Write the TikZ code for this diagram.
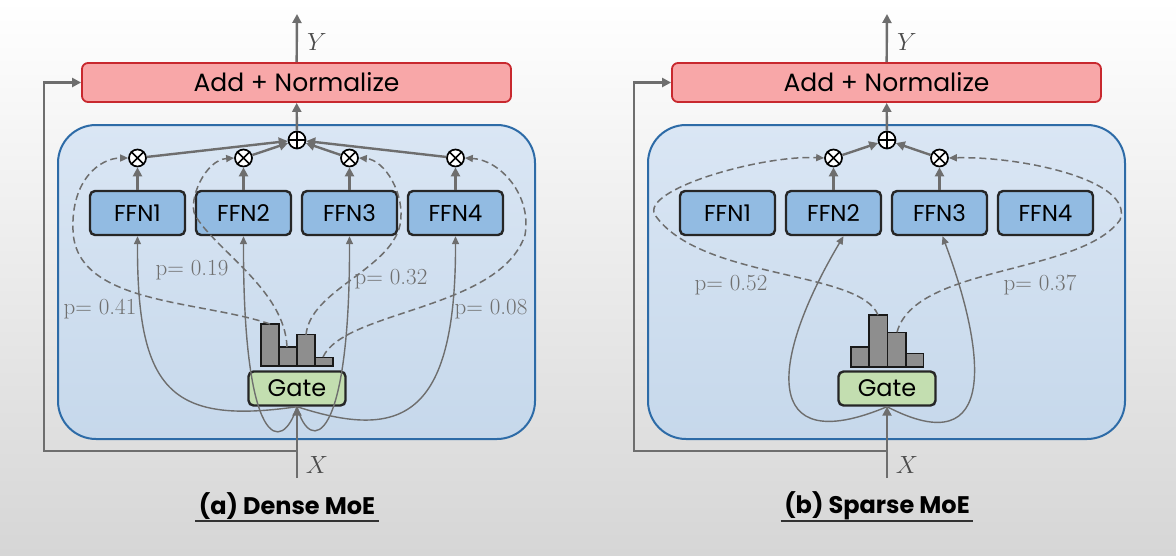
\documentclass[tikz,border=0pt]{standalone}
\usepackage{fontspec}
\newfontfamily\gothic{Poppins}
\usetikzlibrary{arrows.meta,calc}
\definecolor{arrgray}{HTML}{6E6E6E}
\definecolor{redfill}{HTML}{F8A7A8}
\definecolor{redline}{HTML}{C8282E}
\definecolor{bluetop}{HTML}{DAE6F4}
\definecolor{bluebot}{HTML}{C6D8EB}
\definecolor{blueline}{HTML}{2D6BA7}
\definecolor{ffnfill}{HTML}{92BBE2}
\definecolor{gatefill}{HTML}{C3DEB0}
\definecolor{barfill}{HTML}{8E8E8E}
\definecolor{plabel}{HTML}{707070}
\definecolor{bgbot}{HTML}{D6D6D6}
\begin{document}
\begin{tikzpicture}[x=1pt,y=-1pt,
 arr/.style={draw=arrgray,line width=2.4pt,-{Triangle[length=9pt,width=9pt]}},
 solidc/.style={draw=arrgray,line width=1.4pt,-{Triangle[length=8pt,width=7pt]}},
 dashc/.style={draw=arrgray,line width=1.5pt,dash pattern=on 7pt off 4pt,-{Triangle[length=8pt,width=7pt]}},
 addbox/.style={draw=redline,fill=redfill,line width=1.8pt,rounded corners=6pt,minimum width=429pt,minimum height=39pt,inner sep=0pt,font=\gothic\fontsize{25}{28}\selectfont},
 ffnbox/.style={draw=black!85,fill=ffnfill,line width=2.4pt,rounded corners=5pt,minimum width=95pt,minimum height=44pt,inner sep=0pt,font=\gothic\fontsize{23}{26}\selectfont},
 gatebox/.style={draw=black!85,fill=gatefill,line width=2.4pt,rounded corners=5pt,minimum width=97pt,minimum height=34pt,inner sep=0pt,font=\gothic\fontsize{24}{26}\selectfont},
 mulnode/.style={circle,draw=black,fill=white,line width=1.7pt,minimum size=17pt,inner sep=0pt},
 crossline/.style={draw=black,line width=1.7pt},
 barbox/.style={draw=black!90,fill=barfill,line width=1.6pt},
 moebox/.style={draw=blueline,line width=2pt,rounded corners=38pt,top color=bluetop,bottom color=bluebot},
 plab/.style={text=plabel,font=\fontsize{23}{26}\selectfont},
 caption/.style={font=\gothic\bfseries\fontsize{24}{28}\selectfont},
 varlab/.style={text=black!70,font=\fontsize{25}{28}\selectfont}]
\useasboundingbox (0,0) rectangle (1176,555);
\shade[top color=white,middle color=white,bottom color=bgbot] (0,0) rectangle (1176,555);

% ================= Panel A: Dense MoE =================
\path[moebox] (58,125) rectangle (535,439);
\node[addbox] (addA) at (296.5,82.5) {Add + Normalize};
\node[ffnbox] (fA1) at (137.5,213) {FFN1};
\node[ffnbox] (fA2) at (243.5,213) {FFN2};
\node[ffnbox] (fA3) at (349.5,213) {FFN3};
\node[ffnbox] (fA4) at (455.5,213) {FFN4};
\node[mulnode] (pA) at (297,140) {};
\draw[crossline] (pA.north) -- (pA.south) (pA.west) -- (pA.east);
\foreach \i/\xx in {1/137.5,2/243.5,3/349.5,4/455.5}{
  \node[mulnode] (oA\i) at (\xx,158) {};
  \draw[crossline] (oA\i.north west) -- (oA\i.south east) (oA\i.north east) -- (oA\i.south west);
  \draw[arr] (fA\i) -- (oA\i);
  \draw[arr] (oA\i) -- (pA);
}
\draw[arr] (pA) -- (addA);
\coordinate (yA) at (297,14);
\draw[arr] (addA) -- (yA);
\node[varlab] (ylA) at (317,42) {$Y$};
% histogram
\draw[barbox] (260.7,366) rectangle (279,324);
\draw[barbox] (279,366) rectangle (296.7,346.7);
\draw[barbox] (296.7,366) rectangle (315,334.3);
\draw[barbox] (315,366) rectangle (332.7,357.3);
\coordinate (hA1) at (270,324);
\coordinate (hA2) at (287,347);
\coordinate (hA3) at (306,335);
\coordinate (hA4) at (323,357);
\node[gatebox] (gA) at (297,388.5) {Gate};
% input
\coordinate (xA) at (297,478);
\coordinate (jA) at (297,451);
\draw[arr] (xA) -- (gA);
\node[varlab] (xlA) at (317,465) {$X$};
\draw[arr] (jA) -- (44,451) |- (addA.west);
% solid routes
\draw[solidc] (gA.south) .. controls (170,425) and (137,390) .. (fA1.south);
\draw[solidc] (gA.south) .. controls (282,455) and (243,450) .. (fA2.south);
\draw[solidc] (gA.south) .. controls (310,455) and (350,445) .. (fA3.south);
\draw[solidc] (gA.south) .. controls (400,440) and (456,420) .. (fA4.south);
% dashed weights
\draw[dashc] (hA1) .. controls (200,300) and (75,305) .. (73,230) .. controls (71,180) and (100,158) .. (oA1.west);
\draw[dashc] (hA2) .. controls (285,290) and (215,250) .. (195,215) .. controls (188,200) and (205,160) .. (oA2.west);
\draw[dashc] (hA3) .. controls (310,290) and (390,270) .. (400,225) .. controls (406,195) and (385,160) .. (oA3.east);
\draw[dashc] (hA4) .. controls (345,310) and (500,310) .. (525,235) .. controls (532,195) and (500,160) .. (oA4.east);
\node[plab] (pl1) at (100,309) {p= 0.41};
\node[plab] (pl2) at (192,270) {p= 0.19};
\node[plab] (pl3) at (391,279) {p= 0.32};
\node[plab] (pl4) at (491,309) {p= 0.08};
\node[caption] (capA) at (287,506) {(a) Dense MoE};
\draw[line width=2pt,black!80] ($(capA.base west)+(0,7)$) -- ($(capA.base east)+(0,7)$);

% ================= Panel B: Sparse MoE =================
\path[moebox] (648,125) rectangle (1125,439);
\node[addbox] (addB) at (886.5,82.5) {Add + Normalize};
\node[ffnbox] (fB1) at (727.5,213) {FFN1};
\node[ffnbox] (fB2) at (833.5,213) {FFN2};
\node[ffnbox] (fB3) at (939.5,213) {FFN3};
\node[ffnbox] (fB4) at (1045.5,213) {FFN4};
\node[mulnode] (pB) at (887,140) {};
\draw[crossline] (pB.north) -- (pB.south) (pB.west) -- (pB.east);
\foreach \i/\xx in {2/833.5,3/939.5}{
  \node[mulnode] (oB\i) at (\xx,158) {};
  \draw[crossline] (oB\i.north west) -- (oB\i.south east) (oB\i.north east) -- (oB\i.south west);
  \draw[arr] (fB\i) -- (oB\i);
  \draw[arr] (oB\i) -- (pB);
}
\draw[arr] (pB) -- (addB);
\coordinate (yB) at (887,14);
\draw[arr] (addB) -- (yB);
\node[varlab] (ylB) at (907,42) {$Y$};
\draw[barbox] (850.7,366.7) rectangle (869,346.7);
\draw[barbox] (869,366.7) rectangle (887.3,315);
\draw[barbox] (887.3,366.7) rectangle (905.7,332.3);
\draw[barbox] (905.7,366.7) rectangle (923.3,353.3);
\coordinate (hB2) at (878,315);
\coordinate (hB3) at (897,332.3);
\node[gatebox] (gB) at (887,388.5) {Gate};
\coordinate (xB) at (887,478);
\coordinate (jB) at (887,451);
\draw[arr] (xB) -- (gB);
\node[varlab] (xlB) at (907,465) {$X$};
\draw[arr] (jB) -- (634,451) |- (addB.west);
\draw[solidc] (gB.south) .. controls (760,460) and (770,360) .. ($(fB2.south)+(10,0)$);
\draw[solidc] (gB.south) .. controls (1000,465) and (985,350) .. ($(fB3.south)+(3,0)$);
\draw[dashc] (hB2) .. controls (860,270) and (700,280) .. (655,215) .. controls (640,190) and (760,155) .. (oB2.west);
\draw[dashc] (hB3) .. controls (915,265) and (1080,275) .. (1120,220) .. controls (1135,180) and (1020,156) .. (oB3.east);
\node[plab] (pl5) at (731,285) {p= 0.52};
\node[plab] (pl6) at (1040,285) {p= 0.37};
\node[caption] (capB) at (877,506) {(b) Sparse MoE};
\draw[line width=2pt,black!80] ($(capB.base west)+(0,7)$) -- ($(capB.base east)+(0,7)$);
\end{tikzpicture}
\end{document}
